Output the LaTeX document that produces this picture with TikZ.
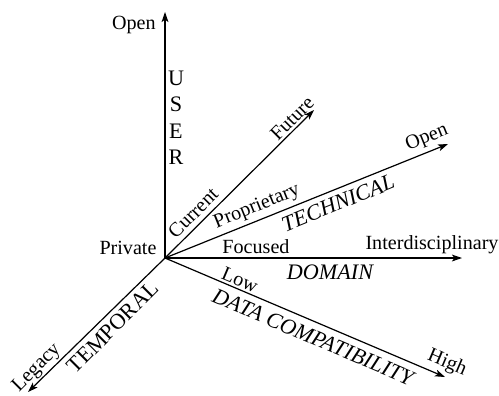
\documentclass[tikz,border=0pt]{standalone}
\usepackage{fontspec}
\setmainfont{Liberation Serif}
\usepackage{tikz}
\usetikzlibrary{arrows.meta}

\begin{document}
\begin{tikzpicture}[x=0.497pt, y=-0.497pt,
    every node/.style={font=\fontsize{10}{12}\selectfont, inner sep=0pt},
    axis/.style={line width=0.6pt, -{Stealth[length=5pt,width=3.4pt,inset=1.2pt]}},
    dimname/.style={font=\fontsize{11}{13}\selectfont},
    dimit/.style={font=\fontsize{11}{13}\selectfont\itshape}]
    \useasboundingbox (0,0) rectangle (499,395);
    % axes
    \coordinate (O) at (165,258);
    \coordinate (userend) at (165,12);
    \coordinate (tempend) at (28,392);
    \coordinate (futend) at (314,110);
    \coordinate (techend) at (448,144);
    \coordinate (domend) at (462,258);
    \coordinate (dataend) at (445,377);
    \foreach \e in {userend,tempend,futend,techend,domend,dataend} {
        \draw [axis] (O) -- (\e);
    }
    % user
    \node [anchor=east] (useropen) at (156,25) {Open};
    \node (private) at (128,248) {Private};
    \foreach \l [count=\i] in {U,S,E,R} {
        \node [dimname] (user\i) at (176,52+26.3*\i) {\l};
    }
    % temporal
    \node [rotate=45] (current) at (193,213) {Current};
    \node [rotate=45] (future) at (292,118) {Future};
    \node [rotate=45] (legacy) at (37,368) {Legacy};
    \node [dimname, rotate=45] (temporal) at (113,327) {TEMPORAL};
    % technical
    \node [rotate=22] (propr) at (257,207) {Proprietary};
    \node [dimit, rotate=22] (technical) at (338,203) {TECHNICAL};
    \node [rotate=22] (techopen) at (427,138) {Open};
    % domain
    \node (focused) at (256,247) {Focused};
    \node (interdisc) at (432,245) {Interdisciplinary};
    \node [dimit] (domain) at (330,272) {DOMAIN};
    % data compatibility
    \node [rotate=-23] (low) at (240,280) {Low};
    \node [dimit, rotate=-23] (datacomp) at (313,337) {DATA COMPATIBILITY};
    \node [rotate=-23] (high) at (447,363) {High};
\end{tikzpicture}
\end{document}
